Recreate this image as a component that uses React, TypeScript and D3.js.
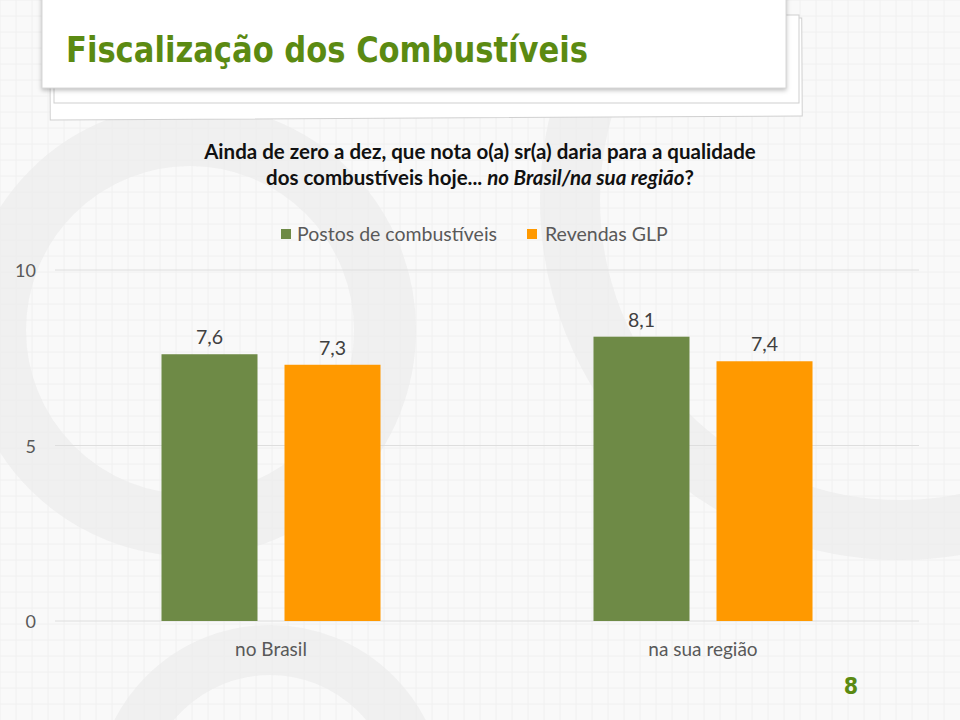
import React from "react";
import * as d3 from "d3";

const categories = ["no Brasil", "na sua região"];
const seriesNames = ["Postos de combustíveis", "Revendas GLP"];
const postos = [7.6, 8.1];
const revendas = [7.3, 7.4];
const yTicks = [0, 5, 10];
const labels = (v: number) => v.toFixed(1).replace(".", ",");

const colors = ["#6e8a46", "#ff9900"];

export default function App() {
  const W = 960, H = 720;
  const x0 = d3.scaleBand<string>().domain(categories).range([55, 919]).paddingInner(0.493).paddingOuter(0.2465);
  const x1 = d3.scaleBand<string>().domain(seriesNames).range([0, x0.bandwidth()]).paddingInner(0.2195).paddingOuter(0);
  const y = d3.scaleLinear().domain([0, 10]).range([621, 270]);
  const seriesValues = [postos, revendas];

  const gridX: number[] = d3.range(0, W, 16);
  const gridY: number[] = d3.range(0, H, 16);

  const font = "Lato, 'Open Sans', sans-serif";
  return (
    <svg width={W} height={H} style={{ position: "absolute", left: 0, top: 0 }}>
      <rect x={0} y={0} width={W} height={H} fill="#f9f9f9" />
      <g stroke="#f0f0f0" strokeWidth={1}>
        {gridX.map((g) => <line key={"gx" + g} x1={g} x2={g} y1={0} y2={H} />)}
        {gridY.map((g) => <line key={"gy" + g} x1={0} x2={W} y1={g} y2={g} />)}
      </g>
      <g fill="none" stroke="#ececec" strokeOpacity={0.75}>
        <circle cx={190} cy={330} r={195} strokeWidth={62} />
        <circle cx={900} cy={200} r={330} strokeWidth={60} />
        <circle cx={270} cy={800} r={150} strokeWidth={50} />
      </g>
      {/* stacked title sheets */}
      <g>
        <rect x={50} y={20} width={752} height={98} fill="#ffffff" stroke="#d0d0d0" strokeWidth={1} transform="rotate(-0.3 425 70)" />
        <rect x={54} y={15} width={745} height={88} fill="#ffffff" stroke="#cfcfcf" strokeWidth={1} />
        <rect x={42} y={-5} width={744} height={93} fill="#ffffff" stroke="#d8d8d8" strokeWidth={1} style={{ filter: "drop-shadow(0px 2px 2px rgba(0,0,0,0.25))" }} />
      </g>
      <text x={66} y={62} fontFamily="'DejaVu Sans Condensed', 'DejaVu Sans', sans-serif" fontWeight="bold" fontSize={36} textLength={522} lengthAdjust="spacingAndGlyphs" fill="#5b8a12">
        Fiscalização dos Combustíveis
      </text>
      <text x={480} y={159} textAnchor="middle" fontFamily={font} fontWeight="bold" fontSize={20.5} fill="#111">
        Ainda de zero a dez, que nota o(a) sr(a) daria para a qualidade
      </text>
      <text x={480} y={185} textAnchor="middle" fontFamily={font} fontWeight="bold" fontSize={20.5} fill="#111">
        dos combustíveis hoje... <tspan fontStyle="italic">no Brasil/na sua região</tspan>?
      </text>
      {/* legend */}
      <g fontFamily={font} fontSize={19.5} fill="#595959">
        <rect x={281} y={229} width={10} height={10} fill={colors[0]} />
        <text x={297} y={241}>{seriesNames[0]}</text>
        <rect x={527} y={229} width={10} height={10} fill={colors[1]} />
        <text x={545} y={241}>{seriesNames[1]}</text>
      </g>
      {/* gridlines */}
      <g>
        {yTicks.map((t) => (
          <line key={"g" + t} x1={55} x2={919} y1={y(t)} y2={y(t)} stroke="#dedede" strokeWidth={1} />
        ))}
        {yTicks.map((t) => (
          <text key={"t" + t} x={36} y={y(t) + 7} textAnchor="end" fontFamily={font} fontSize={18} fill="#595959">{t}</text>
        ))}
      </g>
      {/* bars */}
      {categories.map((c, ci) => (
        <g key={c} transform={`translate(${x0(c)},0)`}>
          {seriesNames.map((s, si) => {
            const v = seriesValues[si][ci];
            const bx = x1(s)!;
            return (
              <g key={s}>
                <rect x={bx} y={y(v)} width={x1.bandwidth()} height={y(0) - y(v)} fill={colors[si]} />
                <text x={bx + x1.bandwidth() / 2} y={y(v) - 10} textAnchor="middle" fontFamily={font} fontSize={19.5} fill="#404040">{labels(v)}</text>
              </g>
            );
          })}
          <text x={x0.bandwidth() / 2} y={656} textAnchor="middle" fontFamily={font} fontSize={19} fill="#595959">{c}</text>
        </g>
      ))}
      <text x={851} y={694} textAnchor="middle" fontFamily="'DejaVu Sans Condensed', sans-serif" fontWeight="bold" fontSize={23} fill="#5b8a12">8</text>
    </svg>
  );
}
